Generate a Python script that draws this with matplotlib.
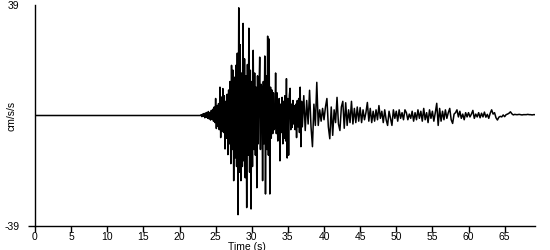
import numpy as np
import matplotlib
matplotlib.use("Agg")
import matplotlib.pyplot as plt

# quiet part before the event (s, cm/s/s)
pre_time = [0.0, 22.9]
pre_acc = [0.0, 0.0]

# strong motion, sampled every 0.1 s from 23.0 s
strong_start = 23.0
strong_dt = 0.1
strong_acc = [
    0.3, -0.4, 0.5, -0.3, 0.7, -0.8, 0.9, -0.6, 1.1, -1.0,
    1.4, -1.2, 1.0, -1.6, 1.8, -1.3, 2.2, -2.0, 3.0, -2.5,
    6.0, -4.6, 3.5, -3.8, 4.2, -5.0, 10.0, -7.8, 6.5, -5.5,
    9.5, -6.0, 7.0, -11.8, 5.0, -8.0, 7.5, -13.8, 9.0, -10.0,
    12.0, -17.0, 17.7, -12.0, 16.0, -23.0, 13.5, -15.0, 17.7, -18.0,
    22.0, -35.0, 38.0, -20.0, 25.0, -23.0, 15.0, -18.0, 32.5, -16.0,
    20.0, -22.0, 14.0, -32.5, 18.0, -14.0, 30.8, -20.0, 16.0, -33.0,
    12.0, -18.0, 23.0, -12.0, 15.0, -14.0, 10.0, -25.5, 14.0, -10.0,
    8.0, 20.6, -12.0, 11.0, 9.0, -23.0, 12.0, -10.0, 21.0, -27.7,
    14.0, -12.0, 28.0, -14.0, 27.0, -27.7, 10.0, -8.0, 9.0, -6.4,
    8.0, -5.0, -4.0, 15.0, -6.4, 8.0, -9.0, 5.0, 6.0, -16.0,
    4.0, -6.0, 6.4, -10.0, 5.0, -8.0, 7.0, -9.0, 13.0, -15.0,
    6.0, -14.0, 7.0, 9.6, -5.0, 4.0, -4.2, 5.3, -3.0, 3.5,
    -5.0, 4.0, -7.8, 5.3, -4.0, 6.0, -6.0, 10.0, -11.0, 5.0,
]

# coda, sampled every 0.2 s from 37.0 s
coda_start = 37.0
coda_dt = 0.2
coda_acc = [
    -4.0, 7.0, -5.3, 5.3, -3.0, 8.9, -4.0, -11.0, 4.0, -3.5,
    11.7, -3.5, 2.0, -2.0, 2.5, -1.5, 3.0, 6.0, -4.0, -8.2,
    3.0, -7.0, 2.0, -2.5, 6.4, -3.0, -5.3, 3.0, 5.0, -4.5,
    4.5, -3.5, 2.0, -2.5, 5.0, -3.0, 2.5, -2.5, 3.0, -2.0,
    2.8, -2.5, 2.0, -1.5, 1.0, 4.6, -2.0, 2.5, -2.5, 1.5,
    -2.0, 2.0, -1.5, 3.5, -1.0, 1.5, -2.5, 2.0, -1.5, -3.5,
    1.5, -1.0, -3.5, 2.0, -1.0, 1.5, -2.0, 2.0, -1.0, 1.0,
    -1.5, 2.0, 1.0, -1.5, 0.5, -1.0, 1.5, -2.0, 1.0, -1.5,
    2.0, -1.0, 1.5, -2.0, 2.5, -1.5, 1.0, -2.5, 2.0, -1.0,
    1.5, -2.0, 1.0, 4.3, -3.5, 2.5, -2.0, 1.5, -1.5, 2.0,
    -1.0, 1.0, 2.5, -1.5, -2.8, 0.5, 1.0, 2.0, -0.5, 1.5,
    -1.0, 0.5, -1.5, 1.0, -0.5, 1.0, -0.5, 0.5, 1.8, -1.0,
    0.5, -0.5, 1.0, -0.8, 0.8, -0.5, 1.2, -0.6, 0.4, -1.0,
    0.8, 2.0, 0.5, 1.0, -0.8, -1.6, -0.6, -0.3, -0.5, 0.2,
    -0.4, 0.3, 0.5, 0.8, 1.3, 0.6, 0.2, 0.4, 0.3, 0.3,
    0.4, 0.3, 0.2, 0.3, 0.3, 0.3, 0.4, 0.3, 0.3, 0.2,
    0.3, 0.3, 0.3,
]

strong_time = strong_start + strong_dt * np.arange(len(strong_acc))
coda_time = coda_start + coda_dt * np.arange(len(coda_acc))
time = np.concatenate([pre_time, strong_time, coda_time])
acc = np.concatenate([pre_acc, strong_acc, coda_acc])

plt.rcParams["font.family"] = ["Liberation Sans", "DejaVu Sans"]

fig = plt.figure(figsize=(5.5, 2.5), dpi=100)
ax = fig.add_axes([35 / 550, 24 / 250, 500 / 550, 221 / 250])

ax.plot(time, acc, color="black", linewidth=1.1)

ax.set_xlim(0, 69.2)
ax.set_ylim(-39, 39)
ax.set_xticks(np.arange(0, 70, 5))
ax.set_yticks([-39, 39])
ax.set_yticklabels(["-39", "39"])

for side in ["top", "right"]:
    ax.spines[side].set_visible(False)
for side in ["left", "bottom"]:
    ax.spines[side].set_linewidth(1.0)

ax.tick_params(axis="x", direction="out", length=4, width=1, pad=0.5, labelsize=7.5)
ax.tick_params(axis="y", direction="out", length=5, width=1, pad=6, labelsize=7.5)
ax.yaxis.get_major_ticks()[1].tick1line.set_visible(False)

ax.set_xlabel("Time (s)", fontsize=7.5)
ax.xaxis.set_label_coords((247 - 35) / 500, -15.5 / 221)
ax.set_ylabel("cm/s/s", fontsize=7.5)
ax.yaxis.set_label_coords(-18 / 500, 0.5)

fig.savefig("out.png", dpi=100)
